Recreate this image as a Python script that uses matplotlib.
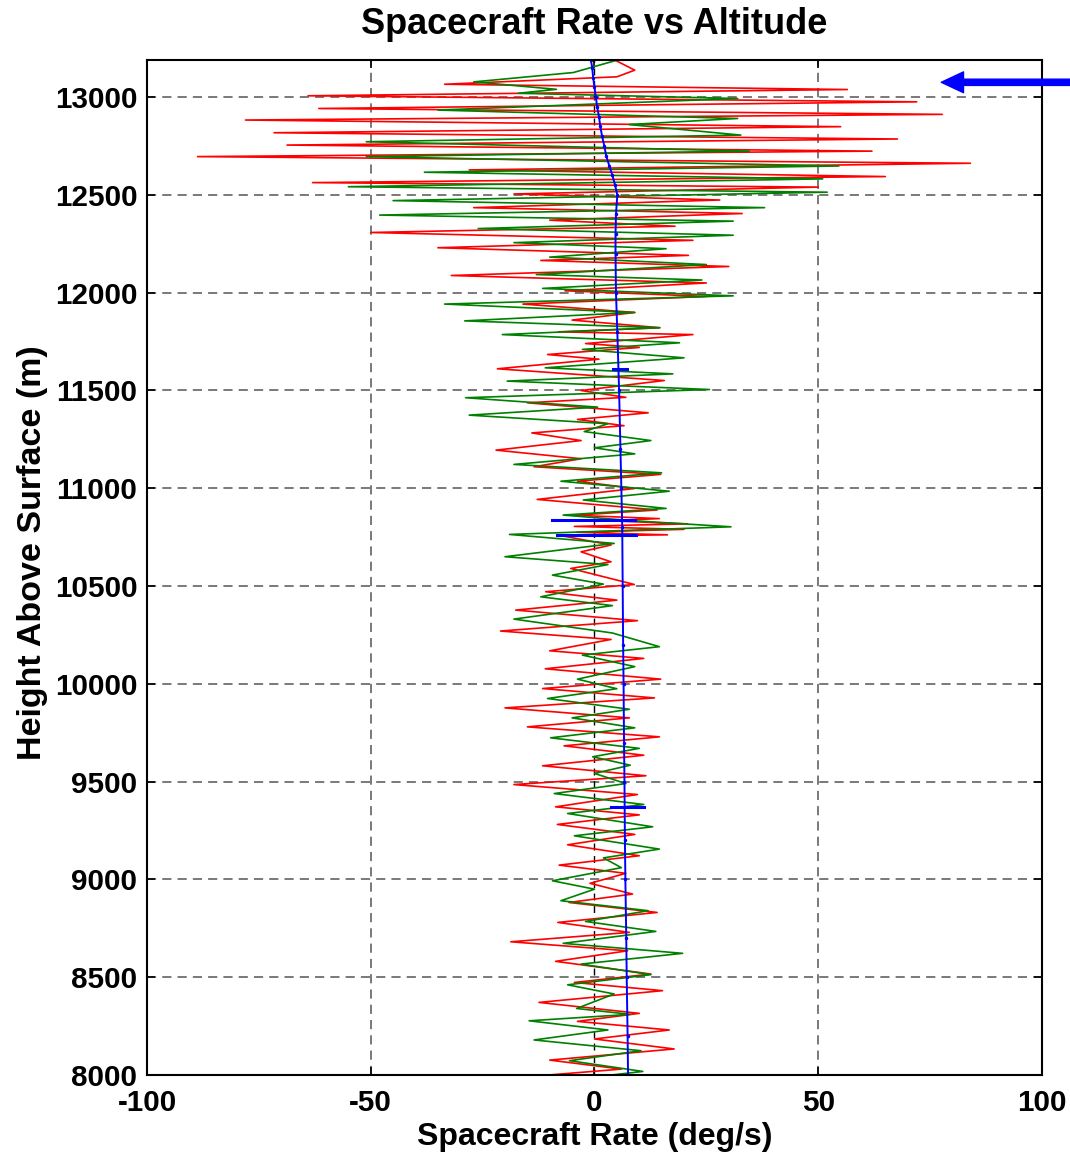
import matplotlib

matplotlib.use("Agg")
import matplotlib.pyplot as plt

plt.rcParams["font.family"] = ["Liberation Sans", "DejaVu Sans"]
plt.rcParams["font.weight"] = "bold"
plt.rcParams["axes.unicode_minus"] = False

# turning points of the two oscillating rate traces (altitude m, rate deg/s)
red_alt = [13189, 13138, 13104, 13066, 13039, 13007, 12976, 12942, 12912, 12883,
           12849, 12818, 12786, 12755, 12724, 12696, 12662, 12628, 12594, 12563,
           12540, 12505, 12474, 12435, 12405, 12371, 12340, 12308, 12268, 12230,
           12191, 12165, 12134, 12088, 12050, 12010, 11981, 11942, 11899, 11860,
           11821, 11800, 11786, 11740, 11720, 11684, 11660, 11611, 11551, 11500,
           11465, 11437, 11386, 11352, 11320, 11283, 11244, 11195, 11151, 11110,
           11071, 11036, 10999, 10943, 10889, 10862, 10845, 10834, 10818, 10805,
           10790, 10775, 10762, 10755, 10710, 10675, 10624, 10590, 10508, 10471,
           10428, 10377, 10323, 10270, 10227, 10169, 10130, 10077, 10024, 9976,
           9928, 9877, 9826, 9780, 9729, 9683, 9635, 9581, 9530, 9485,
           9434, 9371, 9330, 9281, 9230, 9177, 9121, 9073, 9031, 8980,
           8925, 8882, 8831, 8780, 8729, 8681, 8635, 8581, 8516, 8473,
           8431, 8371, 8315, 8274, 8230, 8184, 8133, 8076, 8030, 7991]
red_rate = [4.6, 9, 5, -33.5, 56.5, -64, 72, -61.6, 77.7, -78,
            55, -71.6, 67.7, -68.7, 62, -88.7, 84, -28, 65, -63,
            50, -18, 28, -27, 33, -10, 18, -50, 22, -35,
            21, -12, 30, -32, 25, -6.6, 25, -16, 9, -5,
            14.6, -8, 22, -2, 10, -10.5, 1, -21.7, 15.6, -3,
            7, -15, 12, -3.8, 6.6, -14, -3, -22, -3, -13.5,
            14.8, -3.8, 9, -12.8, 14, -4.5, 14.5, 3, 20.8, -4.5,
            20, -4, 16.3, -6.8, 3.7, -3, 3.7, -5.3, 8.9, -10.9,
            5, -17.6, 9.6, -21, 3.7, -10, 11, -11, 14.8, -11.6,
            13.4, -20, 7.8, -15, 14.5, -6.8, 11, -11.6, 11.5, -18,
            9.6, -8.7, 10, -8.3, 9, -6, 10, -7.9, 7, -1,
            8.5, -5.7, 14, -8.2, 7.8, -18.7, 7.4, -8.7, 12.6, -4.5,
            15.2, -12.4, 10, -3.8, 16.7, 0, 17.8, -10, 6, -15]

green_alt = [13189, 13126, 13078, 13040, 13020, 12993, 12934, 12891, 12860, 12806,
             12772, 12724, 12696, 12648, 12616, 12582, 12542, 12514, 12471, 12435,
             12397, 12366, 12328, 12294, 12256, 12225, 12182, 12144, 12093, 12065,
             12022, 11984, 11942, 11899, 11856, 11821, 11786, 11744, 11710, 11667,
             11616, 11585, 11548, 11505, 11463, 11415, 11374, 11330, 11290, 11244,
             11207, 11176, 11122, 11079, 11036, 10985, 10940, 10897, 10863, 10835,
             10803, 10764, 10718, 10650, 10610, 10556, 10510, 10445, 10400, 10331,
             10260, 10190, 10147, 10088, 10024, 9975, 9925, 9870, 9826, 9775,
             9724, 9670, 9627, 9584, 9542, 9490, 9439, 9383, 9337, 9269,
             9223, 9155, 9110, 9060, 8993, 8950, 8891, 8840, 8785, 8734,
             8673, 8622, 8567, 8513, 8461, 8414, 8340, 8310, 8277, 8230,
             8179, 8124, 8073, 8018, 7990]
green_rate = [5, -4.7, -27, -8.5, -17, 32, -35, 32, 7.7, 32.7,
              -51, 34.6, -51, 54.6, -38, 51, -55, 52, -45, 38,
              -48, 31, -26, 31, -18, 16, -10, 25, -13, 24,
              -11.6, 31, -33.5, 9, -29, 14.6, -20.6, 19, -2.7, 20,
              -11, 17.5, -19.5, 25.7, -28.8, 0.7, -28, 3, -2.3, 12.6,
              0, 9, -18, 15, -7.5, 16.7, -2.5, 16, -7, 8,
              30.5, -19, 4.4, -20, 3, -9.4, 2, -12, 4, -18,
              4, 14.5, -2.7, 9, -3.8, 5, -10.5, 7.8, -5, 9,
              -9.8, 10, -0.4, 8, 0, 7, -9, 11, -6, 13,
              -4.5, 14.5, 2, 6, -9.4, 0, -7.5, 12, -2, 13.7,
              -7, 19.7, -3, 12.6, -6, 4.4, -4, 8, -14.6, 3,
              -13.5, 10.4, -5.6, 10.8, 0]

# mean rate trace
blue_alt = [13189, 13150, 13100, 13050, 13000, 12950, 12900, 12850, 12800, 12750,
            12700, 12650, 12600, 12550, 12500, 12400, 12300, 12200, 12000, 11800,
            11500, 11200, 11000, 10800, 10500, 10200, 10000, 9700, 9500, 9200,
            9000, 8700, 8500, 8200, 8000]
blue_rate = [-0.8, -0.5, -0.3, 0, 0.3, 0.6, 1.0, 1.3, 1.7, 2.2,
             2.6, 3.3, 4.0, 4.6, 5.1, 4.8, 4.7, 4.7, 4.8, 5.1,
             5.5, 5.8, 6.0, 6.2, 6.3, 6.4, 6.5, 6.6, 6.7, 6.8,
             6.9, 7.1, 7.2, 7.4, 7.5]
# blue glitches (altitude, min rate, max rate)
spike_alt = [11612, 10836, 10762, 9368]
spike_lo = [4.2, -9.4, -8.3, 3.7]
spike_hi = [7.2, 9.0, 9.2, 11.0]

fig = plt.figure(figsize=(10.7, 11.56), dpi=100)
ax = fig.add_axes([0.1374, 0.0701, 0.8364, 0.878])

for y in range(8000, 13500, 500):
    ax.axhline(y, color="#555555", linestyle=(0, (6, 4)), linewidth=1.1, zorder=0)
for x in (-50, 50):
    ax.axvline(x, color="#555555", linestyle=(0, (6, 4)), linewidth=1.1, zorder=0)
ax.axvline(0, color="black", linestyle=(0, (5, 4)), linewidth=1.0, zorder=0)

ax.plot(red_rate, red_alt, color="#FF0000", linewidth=1.2)
ax.plot(green_rate, green_alt, color="#008000", linewidth=1.2)
ax.plot(blue_rate, blue_alt, color="#0000FF", linewidth=1.4, marker=".",
        markersize=3)
for a, lo, hi in zip(spike_alt, spike_lo, spike_hi):
    ax.plot([lo, hi], [a, a], color="#0000FF", linewidth=2.2)

ax.annotate("", xy=(77.5, 13076), xytext=(107, 13076),
            arrowprops=dict(color="#0000FF", width=4.5, headwidth=15,
                            headlength=16),
            annotation_clip=False)

ax.set_xlim(-100, 100)
ax.set_ylim(8000, 13190)
ax.set_xticks([-100, -50, 0, 50, 100])
ax.set_yticks(range(8000, 13500, 500))
ax.tick_params(direction="in", top=True, right=True, labelsize=21.3, length=6,
               width=1.2)
ax.tick_params(axis="x", pad=10)
ax.tick_params(axis="y", pad=7)
for s in ax.spines.values():
    s.set_linewidth(1.5)

ax.set_title("Spacecraft Rate vs Altitude", fontsize=26, fontweight="bold", pad=19)
ax.set_xlabel("Spacecraft Rate (deg/s)", fontsize=23, fontweight="bold", labelpad=4)
ax.set_ylabel("Height Above Surface (m)", fontsize=24.5, fontweight="bold")
ax.yaxis.set_label_coords(-0.111, 0.515)

fig.savefig("out.png", dpi=100, facecolor="white")
